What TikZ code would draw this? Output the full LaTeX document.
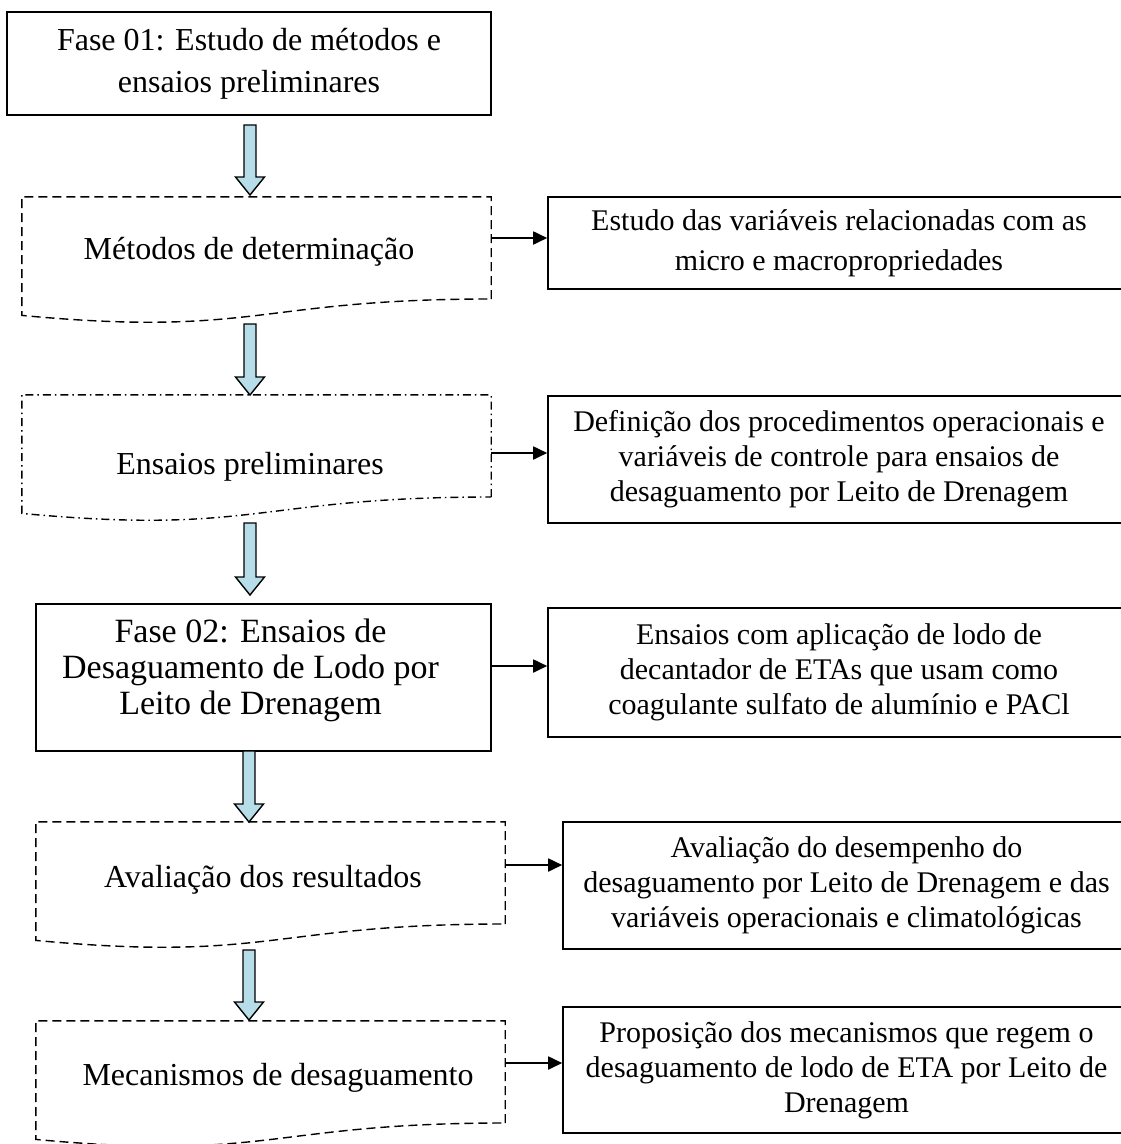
\documentclass[tikz,border=0pt]{standalone}
\usepackage{fontspec}
\setmainfont{Liberation Serif}
\usetikzlibrary{arrows.meta,calc}
\definecolor{arrowfill}{RGB}{183,222,232}
\newcommand\blockdown[2]{%
  \path let \p1=#1, \p2=#2 in
    [barrow] (\x1-6pt,\y1) -- (\x1+6pt,\y1) -- (\x1+6pt,\y2+18pt) -- (\x1+14.5pt,\y2+18pt)
    -- (\x1,\y2) -- (\x1-14.5pt,\y2+18pt) -- (\x1-6pt,\y2+18pt) -- cycle;}
\newcommand\docoutline[2]{%
  \draw[#2] (#1.south east) -- (#1.north east) -- (#1.north west)
    -- ($(#1.north west)+(0,-118.6)$)
    .. controls ($(#1.north)+(0,-140.7)$) and (#1.south) .. (#1.south east);}
\begin{document}
\begin{tikzpicture}[x=1pt,y=1pt,
  box/.style={draw=black,line width=1.6pt,inner sep=0pt},
  ltext/.style={font=\fontsize{32}{37}\selectfont,align=center,inner sep=0pt},
  ftext/.style={font=\fontsize{34}{36}\selectfont,align=center,inner sep=0pt},
  rtext/.style={font=\fontsize{30}{35}\selectfont,align=center},
  docframe/.style={draw=none,inner sep=0pt,minimum width=469pt,minimum height=101.8pt},
  dashline/.style={line width=1.4pt,dash pattern=on 9pt off 5pt},
  dashdotline/.style={line width=1.4pt,dash pattern=on 8pt off 4pt on 1.5pt off 4pt},
  conn/.style={line width=1.8pt,-{Triangle[length=14pt,width=13pt]}},
  barrow/.style={draw=black,line width=1.4pt,fill=arrowfill,line join=miter},
]
\useasboundingbox (0,0) rectangle (1121,-1144);

% left column
\node[box,minimum width=484pt,minimum height=103pt,ltext,font=\fontsize{32}{42}\selectfont] (b1) at (249,-63.5)
  {Fase 01: Estudo de métodos e\\ensaios preliminares};

\node[docframe] (d1) at (256.5,-247.9) {};
\docoutline{d1}{dashline}
\node[ltext] (t1) at (249,-252) {Métodos de determinação};

\node[docframe] (d2) at (256.5,-445.9) {};
\docoutline{d2}{dashdotline}
\node[ltext] (t2) at (250,-467) {Ensaios preliminares};

\node[box,minimum width=455pt,minimum height=147pt] (b2) at (263.5,-677.5) {};
\node[ftext] (t3) at (250.5,-670) {Fase 02: Ensaios de\\Desaguamento de Lodo por\\Leito de Drenagem};

\node[docframe] (d4) at (270.5,-872.9) {};
\docoutline{d4}{dashline}
\node[ltext] (t4) at (263,-880) {Avaliação dos resultados};

\node[docframe] (d5) at (270.5,-1071.9) {};
\docoutline{d5}{dashline}
\node[ltext] (t5) at (278,-1078) {Mecanismos de desaguamento};

% right column
\node[box,minimum width=582pt,minimum height=92pt,rtext,font=\fontsize{30}{40}\selectfont] (r1) at (839,-243)
  {Estudo das variáveis relacionadas com as\\micro e macropropriedades};
\node[box,minimum width=582pt,minimum height=127pt,rtext] (r2) at (839,-459.5)
  {Definição dos procedimentos operacionais e\\variáveis de controle para ensaios de\\desaguamento por Leito de Drenagem};
\node[box,minimum width=582pt,minimum height=129pt,rtext] (r3) at (839,-672.5)
  {Ensaios com aplicação de lodo de\\decantador de ETAs que usam como\\coagulante sulfato de alumínio e PACl};
\node[box,minimum width=567pt,minimum height=127pt,rtext] (r4) at (846.5,-885.5)
  {Avaliação do desempenho do\\desaguamento por Leito de Drenagem e das\\variáveis operacionais e climatológicas};
\node[box,minimum width=567pt,minimum height=126pt,rtext] (r5) at (846.5,-1070)
  {Proposição dos mecanismos que regem o\\desaguamento de lodo de ETA por Leito de\\Drenagem};

% block arrows
\coordinate (a1s) at (250,-125); \coordinate (a1e) at (250,-195);
\coordinate (a2s) at (250,-324); \coordinate (a2e) at (250,-395);
\coordinate (a3s) at (250,-523); \coordinate (a3e) at (250,-595);
\coordinate (a4s) at (249,-751); \coordinate (a4e) at (249,-822);
\coordinate (a5s) at (249,-950); \coordinate (a5e) at (249,-1020);
\blockdown{(a1s)}{(a1e)}
\blockdown{(a2s)}{(a2e)}
\blockdown{(a3s)}{(a3e)}
\blockdown{(a4s)}{(a4e)}
\blockdown{(a5s)}{(a5e)}

% connectors
\coordinate (c1) at (d1.east |- 0,-238);
\coordinate (c2) at (d2.east |- 0,-453);
\coordinate (c3) at (b2.east |- 0,-666);
\coordinate (c4) at (d4.east |- 0,-865);
\coordinate (c5) at (d5.east |- 0,-1063);
\draw[conn] (c1) -- (c1 -| r1.west);
\draw[conn] (c2) -- (c2 -| r2.west);
\draw[conn] (c3) -- (c3 -| r3.west);
\draw[conn] (c4) -- (c4 -| r4.west);
\draw[conn] (c5) -- (c5 -| r5.west);
\end{tikzpicture}
\end{document}
